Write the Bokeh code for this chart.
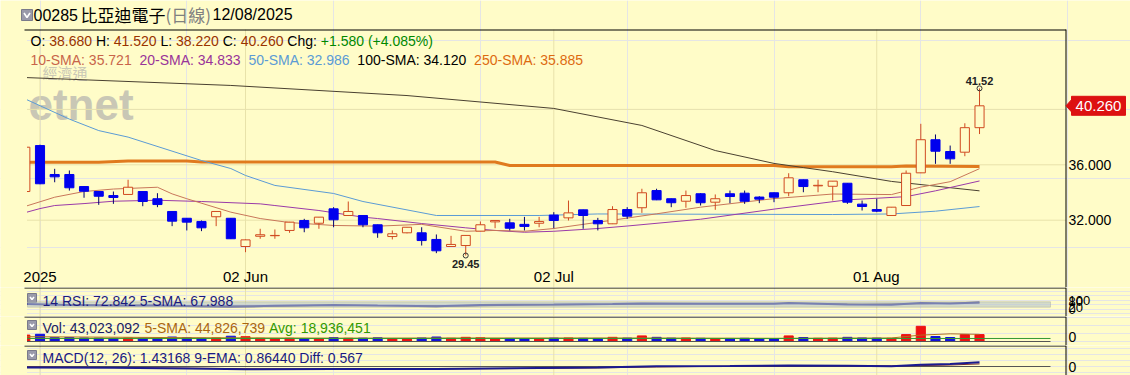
from bokeh.plotting import figure
from bokeh.models import Range1d, Label, ColumnDataSource, BoxAnnotation
from bokeh.layouts import column
from bokeh.embed import file_html
from bokeh.resources import INLINE
from bokeh.core.properties import value

# ------------------------------------------------------------------ data
idx = list(range(-1, 65))
opens = [34.07, 37.39, 35.30, 35.30, 34.43, 34.07, 33.78, 33.86, 34.07, 33.55,
         32.63, 32.14, 31.91, 32.25, 32.14, 30.10, 30.84, 30.88, 31.26, 31.98,
         31.78, 32.82, 32.34, 32.34, 31.67, 30.82, 31.09, 31.09, 30.61, 30.10,
         30.17, 31.21, 31.88, 31.81, 31.70, 31.78, 32.37, 32.17, 32.75, 31.98,
         31.74, 32.77, 32.90, 34.14, 33.55, 33.37, 33.91, 33.30, 33.91, 33.95,
         33.67, 33.98, 33.98, 34.92, 34.48, 34.45, 34.67, 33.16, 32.77, 32.34,
         33.06, 35.42, 37.81, 36.96, 36.91, 38.68]
highs = [37.30, 37.45, 35.71, 35.59, 34.45, 34.08, 34.07, 34.92, 34.08, 33.95,
         32.65, 32.15, 31.98, 32.65, 32.15, 30.62, 31.38, 31.33, 31.88, 32.10,
         32.23, 32.94, 33.35, 32.35, 31.68, 31.26, 31.50, 31.49, 30.97, 30.87,
         30.92, 31.91, 31.99, 32.10, 32.24, 32.24, 32.58, 33.42, 32.76, 32.17,
         33.01, 32.94, 34.27, 34.27, 33.56, 34.14, 33.95, 33.86, 34.14, 34.14,
         33.73, 34.00, 35.39, 34.93, 34.92, 34.83, 34.68, 33.42, 33.55, 32.95,
         35.59, 38.96, 38.19, 37.39, 39.00, 41.52]
lows = [34.00, 34.60, 34.74, 34.14, 33.62, 33.11, 33.18, 33.84, 33.01, 32.94,
        31.57, 31.26, 31.21, 31.57, 30.64, 29.69, 30.66, 30.66, 31.09, 31.13,
        31.38, 31.49, 32.33, 31.49, 30.73, 30.61, 31.05, 30.17, 29.62, 30.08,
        29.45, 31.20, 31.42, 31.26, 31.26, 31.49, 31.42, 31.98, 31.38, 31.26,
        31.72, 32.10, 32.53, 33.45, 32.94, 32.90, 33.06, 32.75, 33.23, 33.18,
        33.23, 33.30, 33.73, 34.02, 34.02, 33.42, 33.18, 32.70, 32.58, 32.33,
        33.05, 35.40, 36.07, 36.07, 36.62, 38.22]
closes = [37.27, 34.63, 35.13, 34.34, 34.09, 33.73, 33.64, 34.38, 33.35, 33.13,
          31.93, 31.86, 31.45, 32.63, 30.66, 30.58, 30.95, 30.90, 31.86, 31.45,
          32.22, 32.03, 32.63, 31.67, 31.09, 31.02, 31.49, 30.53, 29.79, 30.25,
          30.90, 31.67, 31.98, 31.42, 31.55, 31.91, 31.98, 32.53, 32.34, 31.74,
          32.77, 32.29, 33.98, 33.47, 33.26, 33.78, 33.26, 33.55, 33.71, 33.37,
          33.52, 33.66, 35.06, 34.43, 34.52, 34.82, 33.30, 32.99, 32.65, 32.94,
          35.39, 37.81, 36.98, 36.43, 38.68, 40.26]
volumes_m = [40, 45, 24, 25, 22, 21, 20, 22, 21, 20, 28, 23, 20, 22, 33, 30, 20, 18,
             20, 19, 18, 24, 20, 21, 23, 18, 17, 22, 28, 20, 26, 23, 18, 19, 18, 17,
             21, 22, 20, 19, 26, 21, 35, 26, 21, 22, 20, 18, 19, 20, 17, 18, 35, 25,
             20, 21, 26, 22, 21, 20, 43, 95, 31, 25, 43, 43.02]

# moving averages (candle index, value)
sma10_x = [-1, 1, 3, 5, 8, 9, 10, 13, 15, 17, 20, 23, 26, 29, 31, 33, 35, 39, 42, 45, 50, 54, 58, 60, 62, 64]
sma10_y = [33.0, 33.66, 34.07, 34.25, 34.38, 33.9, 33.55, 32.58, 32.12, 31.83, 31.62, 31.57, 31.7,
           31.2, 31.26, 31.2, 31.4, 32.0, 32.46, 32.94, 33.56, 33.89, 33.85, 34.39, 34.78, 35.721]
sma20_x = [-1, 0, 1, 3, 5, 8, 11, 15, 16, 19, 22, 23, 26, 29, 31, 33, 35, 38, 40, 45, 50, 55, 59, 61, 64]
sma20_y = [32.55, 32.84, 33.06, 33.2, 33.37, 33.44, 33.35, 33.18, 33.06, 32.7, 32.22, 32.12, 31.76,
           31.45, 31.26, 31.13, 31.2, 31.4, 31.58, 32.07, 32.8, 33.47, 33.7, 34.12, 34.833]
sma50_x = [-1, 2, 4, 6, 11, 13, 14, 16, 20, 22, 27, 34, 38, 54, 58, 61, 64]
sma50_y = [40.75, 39.3, 38.47, 38.0, 36.31, 35.73, 35.23, 34.51, 33.93, 33.35, 32.34, 32.34,
           32.45, 32.41, 32.45, 32.65, 32.986]
sma100_x = [-1, 13, 25, 35, 41, 46, 50, 52, 54, 58, 64]
sma100_y = [42.3, 41.73, 41.0, 40.07, 38.84, 37.03, 36.1, 35.8, 35.5, 34.8, 34.12]
sma250_x = [-1, 4, 6, 10, 11, 31, 32, 50, 51, 58, 59, 64]
sma250_y = [36.19, 36.19, 36.27, 36.27, 36.2, 36.2, 35.95, 35.95, 35.86, 35.86, 35.91, 35.885]

rsi_x = [-1, 2, 5, 8, 11, 13, 16, 20, 23, 27, 30, 35, 39, 41, 45, 50, 51, 55, 58, 60, 62, 64]
rsi_y = [55, 45, 38, 40, 30, 27, 35, 45, 38, 30, 45, 50, 55, 62, 58, 58, 66, 50, 47, 68, 60, 72.842]
rsi5_x = [-1, 4, 8, 12, 16, 20, 25, 29, 33, 38, 42, 47, 52, 56, 60, 64]
rsi5_y = [52, 44, 40, 33, 32, 40, 38, 33, 44, 50, 57, 58, 60, 53, 58, 67.988]
macd_x = [-1, 5, 10, 14, 20, 27, 32, 38, 42, 47, 51, 55, 58, 60, 62, 64]
macd_y = [-0.3, -0.45, -0.7, -0.9, -0.85, -0.8, -0.55, -0.3, 0.1, 0.2, 0.35, 0.25, 0.1, 0.6, 0.85, 1.43168]
sig_y = [-0.2, -0.35, -0.55, -0.75, -0.85, -0.82, -0.7, -0.45, -0.15, 0.1, 0.22, 0.25, 0.2, 0.3, 0.5, 0.8644]
vol5_x = [-1, 10, 20, 30, 40, 50, 58, 60, 62, 64]
vol5_y = [30, 24, 21, 22, 22, 20, 22, 40, 48, 44.83]
vol_avg = 18.936451

tick_idx = [0, 14, 35, 57]
tick_labels = ["2025", "02 Jun", "02 Jul", "01 Aug"]
price_ticks = [32, 36]
grid_prices = [32, 36, 40]
rsi_ticks = [0, 20, 80, 100]
last_close = closes[-1]

# ------------------------------------------------------------------ style / geometry
BG = "#FFFCC8"
GRID = "#e8e2aa"
FONT = "'Liberation Sans', Arial, 'Noto Sans CJK TC', sans-serif"
CJK = "'Noto Sans CJK TC', 'Liberation Sans', sans-serif"
UP = "#d04a20"
DN_FILL = "#0000ee"
DN_WICK = "#000070"
W = 1130
PX0, PXD = 39.5, 14.68          # pixel of candle 0, pixels per candle
FR_L, FR_R = 26.5, 1065.5       # plotting area left / right edge (pixels)


def ix(px):
    return (px - PX0) / PXD


XR = Range1d(ix(0), ix(W))

AW = {' ': 278, '%': 889, '(': 333, ')': 333, '+': 584, ',': 278, '-': 333, '.': 278, '/': 278,
      ':': 278, 'A': 667, 'C': 722, 'D': 722, 'E': 667, 'H': 722, 'I': 278, 'L': 556, 'M': 833,
      'O': 778, 'R': 722, 'S': 667, 'V': 667, 'a': 556, 'f': 278, 'g': 556, 'h': 556, 'i': 222,
      'l': 222, 'o': 556, 'v': 500}


def twidth(s, size):
    return sum(AW.get(c, 556) for c in s) * size / 1000.0


def lab(fig, x, y, text, color="black", size=14, bold=False, align="left",
        baseline="middle", font=FONT, alpha=1.0):
    fig.add_layout(Label(x=x, y=y, x_units="canvas", y_units="canvas", text=text,
                         text_color=color, text_font_size=f"{size}px", text_font=font,
                         text_font_style="bold" if bold else "normal", text_align=align,
                         text_baseline=baseline, text_alpha=alpha))


def segs(fig, x, y, parts, size=14, gap=0.0):
    for t, c in parts:
        lab(fig, x, y, t, color=c, size=size)
        x += twidth(t, size) + gap


class Panel:
    def __init__(self, h, y_top, y_bot):
        self.h, self.top, self.bot = h, y_top, y_bot
        self.f = figure(width=W, height=h, x_range=XR, y_range=Range1d(y_bot, y_top),
                        output_backend="svg", toolbar_location=None,
                        x_axis_location=None, y_axis_location=None,
                        min_border_left=0, min_border_right=0, min_border_top=0,
                        min_border_bottom=0, background_fill_color=BG,
                        border_fill_color=BG, outline_line_color=None)

    def vy(self, py):   # canvas pixel row -> data value
        return self.top - py * (self.top - self.bot) / self.h

    def vgrid(self, py0, py1):
        self.f.segment(x0=tick_idx, y0=[self.vy(py0)] * 4, x1=tick_idx, y1=[self.vy(py1)] * 4,
                       line_color=GRID, line_width=1)

    def mask(self, py0, py1):
        self.f.quad(left=ix(0), right=ix(FR_L), top=self.vy(py0), bottom=self.vy(py1),
                    fill_color=BG, line_color=None)

    def frame_lines(self, py_top):
        f = self.f
        f.segment(x0=[ix(24)], y0=[self.vy(py_top + 0.5)], x1=[ix(FR_R)], y1=[self.vy(py_top + 0.5)],
                  line_color="black", line_width=1)
        f.segment(x0=[ix(FR_R)], y0=[self.vy(py_top)], x1=[ix(FR_R)], y1=[self.vy(self.h)],
                  line_color="black", line_width=1)

    def right_labels(self, vals, fmt, size=14, ys=None):
        self.f.text(x=[ix(1068)] * len(vals), y=vals if ys is None else ys,
                    text=[fmt % v for v in vals], text_align="left", text_baseline="middle",
                    text_font=value("Liberation Sans"), text_font_size=f"{size}px",
                    text_color="black")

    def icon(self, px, py, s=10):
        f = self.f
        f.quad(left=[ix(px)], right=[ix(px + s)], top=[self.vy(py)], bottom=[self.vy(py + s)],
               fill_color="#9a9aaa", line_color="#7a7a8a")
        f.line(x=[ix(px + 2.5), ix(px + s / 2), ix(px + s - 2.5)],
               y=[self.vy(py + 3.5), self.vy(py + s - 3), self.vy(py + 3.5)],
               line_color="white", line_width=1.6)


# ------------------------------------------------------------------ main panel
MAIN_H = 287
mp = Panel(MAIN_H, 36 + 164.3 / 13.85, 36 - (MAIN_H - 164.3) / 13.85)
p = mp.f

# watermark (behind everything)
p.text(x=[ix(42)], y=[mp.vy(72)], text=["經濟通"], text_baseline="middle",
       text_font=value("Noto Sans CJK TC"), text_font_size="15px", text_color="#cbc9b6")
p.text(x=[ix(28)], y=[mp.vy(104)], text=["etnet"], text_baseline="middle",
       text_font=value("Liberation Sans"), text_font_size="44px", text_font_style="bold",
       text_color="#c9c7b5")

# grid
mp.vgrid(29, MAIN_H)
p.segment(x0=[ix(FR_L)] * 3, y0=grid_prices, x1=[ix(FR_R)] * 3, y1=grid_prices,
          line_color=GRID, line_width=1)

# moving averages
p.line(sma250_x, sma250_y, line_color="#e07a1e", line_width=3)
p.line(sma100_x, sma100_y, line_color="#4a4030", line_width=1)
p.line(sma50_x, sma50_y, line_color="#5b9bd5", line_width=1)
p.line(sma20_x, sma20_y, line_color="#9a3aa8", line_width=1)
p.line(sma10_x, sma10_y, line_color="#c8765a", line_width=1)

# candles
up = [c >= o for o, c in zip(opens, closes)]
src = ColumnDataSource(dict(
    x=idx, high=highs, low=lows,
    top=[max(o, c) for o, c in zip(opens, closes)],
    bottom=[min(o, c) for o, c in zip(opens, closes)],
    wick=[UP if u else DN_WICK for u in up],
    fill=[BG if u else DN_FILL for u in up],
    line=[UP if u else DN_FILL for u in up],
))
p.segment(x0="x", y0="high", x1="x", y1="low", line_color="wick", line_width=1, source=src)
p.vbar(x="x", width=0.62, top="top", bottom="bottom", fill_color="fill", line_color="line",
       line_width=1, source=src)

mp.mask(29, MAIN_H)

# extremes
hi_i = highs.index(max(highs))
lo_i = lows.index(min(lows))
p.scatter([idx[hi_i], idx[lo_i]], [highs[hi_i], lows[lo_i]], size=5, marker="circle",
          fill_color=None, line_color="#333333")
p.text([idx[hi_i]], [highs[hi_i]], text=[f"{highs[hi_i]:.2f}"], text_align="center",
       text_baseline="bottom", y_offset=-3, text_font=value("Liberation Sans"),
       text_font_size="11px", text_font_style="bold", text_color="#222222")
p.text([idx[lo_i]], [lows[lo_i]], text=[f"{lows[lo_i]:.2f}"], text_align="center",
       text_baseline="top", y_offset=4, text_font=value("Liberation Sans"),
       text_font_size="11px", text_font_style="bold", text_color="#222222")

# x tick labels inside the panel
p.text(tick_idx, [mp.vy(276)] * len(tick_idx), text=tick_labels, text_align="center",
       text_baseline="middle", text_font=value("Liberation Sans"), text_font_size="15px",
       text_color="black")

# frame lines + price labels
mp.frame_lines(29)
mp.right_labels(price_ticks, "%.3f", 14)

# last price tag
tag_h = 9.5 * (mp.top - mp.bot) / MAIN_H
p.quad(left=[ix(1071)], right=[ix(1125)], top=[last_close + tag_h], bottom=[last_close - tag_h],
       fill_color="#dd1111", line_color="#dd1111")
p.patch(x=[ix(1065.5), ix(1071.5), ix(1071.5)],
        y=[last_close, last_close + tag_h * 0.7, last_close - tag_h * 0.7],
        fill_color="#dd1111", line_color="#dd1111")
p.text([ix(1098)], [last_close], text=["%.3f" % last_close], text_align="center",
       text_baseline="middle", text_font=value("Liberation Sans"), text_font_size="15px",
       text_color="white")

# header texts
mp.icon(21, 9, 11)
lab(p, 33, 14, "00285", size=16)
lab(p, 80, 14, "比亞迪電子", size=17, font=CJK)
lab(p, 165, 14, "(日線)", size=17, color="#808080", font=CJK)
lab(p, 212, 14, "12/08/2025", size=16)

BR = "#993300"
segs(p, 30, 40, [("O: ", "black"), ("38.680 ", BR), ("H: ", "black"), ("41.520 ", BR),
                 ("L: ", "black"), ("38.220 ", BR), ("C: ", "black"), ("40.260 ", BR),
                 ("Chg: ", "black"), ("+1.580 (+4.085%)", "#008800")], 14)
segs(p, 30, 59, [("10-SMA: 35.721 ", "#c8644a"), ("20-SMA: 34.833 ", "#993399"),
                 ("50-SMA: 32.986 ", "#5b9bd5"), ("100-SMA: 34.120 ", "black"),
                 ("250-SMA: 35.885", "#dd6a10")], 14, gap=3.9)

# ------------------------------------------------------------------ RSI panel
rp = Panel(29, 238.9, -83.3)
r = rp.f
rp.vgrid(0, 29)
r.add_layout(BoxAnnotation(left=ix(27), right=ix(1050), bottom=20, top=80,
                           fill_color="#b8c4c8", fill_alpha=0.6, line_color="#909090"))
r.line(rsi5_x, rsi5_y, line_color="#5a3020", line_width=1)
r.line(rsi_x, rsi_y, line_color="#1a1a90", line_width=2)
rp.mask(0, 29)
rp.frame_lines(0)
rp.right_labels(rsi_ticks, "%d", 13)
rp.icon(27, 6, 9)
lab(r, 42, 13, "14 RSI: 72.842 5-SMA: 67.988", color="#1a1a80", size=14)

# ------------------------------------------------------------------ Volume panel
vp = Panel(29, 25 / 0.16, -4 / 0.16)
v = vp.f
vp.vgrid(0, 29)
vsrc = ColumnDataSource(dict(x=idx, v=volumes_m,
                             c=["#ee1111" if u else "#1111dd" for u in up]))
v.vbar(x="x", top="v", bottom=0, width=0.62, fill_color="c", line_color="c", source=vsrc)
v.line(vol5_x, vol5_y, line_color="#b07020", line_width=1)
v.segment(x0=[ix(FR_L)] * 2, y0=[vol_avg, 0], x1=[ix(1050)] * 2, y1=[vol_avg, 0],
          line_color=["#339933", "#555555"], line_width=1)
vp.mask(0, 29)
vp.frame_lines(0)
vp.right_labels([0], "%d", 14, ys=[vp.vy(20.5)])
vp.icon(27, 4, 9)
segs(v, 42, 11, [("Vol: 43,023,092 ", "#1a1a60"), ("5-SMA: 44,826,739 ", "#aa6611"),
                 ("Avg: 18,936,451", "#339900")], 14)

# ------------------------------------------------------------------ MACD panel
cp = Panel(30, 7.0, -3.0)
m = cp.f
cp.vgrid(0, 30)
m.segment(x0=[ix(FR_L)], y0=[0], x1=[ix(1050)], y1=[0], line_color="#555555", line_width=1)
m.line(macd_x, sig_y, line_color="#7a2a2a", line_width=1)
m.line(macd_x, macd_y, line_color="#1a1a90", line_width=2)
cp.mask(0, 30)
cp.frame_lines(0)
cp.right_labels([0], "%d", 14)
cp.icon(27, 5, 9)
lab(m, 42, 12, "MACD(12, 26): 1.43168 9-EMA: 0.86440 Diff: 0.567", color="#1a1a80", size=14)

layout = column(p, r, v, m, spacing=0)
open("out.html", "w").write(file_html(layout, INLINE))
